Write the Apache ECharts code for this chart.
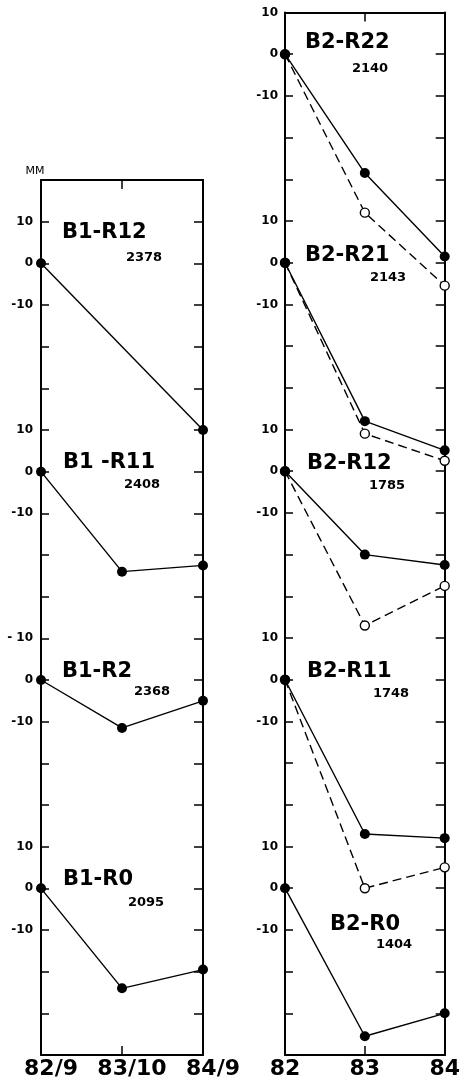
<!DOCTYPE html>
<html><head><meta charset="utf-8">
<script src="https://cdn.jsdelivr.net/npm/echarts@6/dist/echarts.min.js"></script>
<style>html,body{margin:0;padding:0;background:#fff}#c{width:463px;height:1081px}</style>
</head><body><div id="c"></div>
<script>
// ---- data ----
const leftCategories = ['82/9', '83/10', '84/9'];
const rightCategories = ['82', '83', '84'];

const leftNames = ['B1-R12', 'B1 -R11', 'B1-R2', 'B1-R0'];
const leftCodes = ['2378', '2408', '2368', '2095'];
const rightNames = ['B2-R22', 'B2-R21', 'B2-R12', 'B2-R11', 'B2-R0'];
const rightCodes = ['2140', '2143', '1785', '1748', '1404'];

// settlement (mm), solid = filled circles
const b1r12 = [0, null, -40];
const b1r11 = [0, -24, -22.5];
const b1r2  = [0, -11.5, -5];
const b1r0  = [0, -24, -19.5];

const b2r22 = [0, -28.5, -48.5];
const b2r21 = [0, -38, -45];
const b2r12 = [0, -20, -22.5];
const b2r11 = [0, -37, -38];
const b2r0  = [0, -35.5, -30];

// dashed = open circles
const b2r22o = [0, -38, -55.5];
const b2r21o = [0, -41, -47.5];
const b2r12o = [0, -37, -27.5];
const b2r11o = [0, -50, -45];

// tick labels
const leftTickValues = [-40, -50, -60, -90, -100, -110, -140, -150, -160, -190, -200, -210];
const leftTickLabels = ['10', '0', '-10', '10', '0', '-10', '- 10', '0', '-10', '10', '0', '-10'];
const rightTickValues = [10, 0, -10, -40, -50, -60, -90, -100, -110, -140, -150, -160, -190, -200, -210];
const rightTickLabels = ['10', '0', '-10', '10', '0', '-10', '10', '0', '-10', '10', '0', '-10', '10', '0', '-10'];

// ---- layout ----
const leftZero = [-50, -100, -150, -200];
const rightZero = [0, -50, -100, -150, -200];
const leftSolid = [b1r12, b1r11, b1r2, b1r0];
const rightSolid = [b2r22, b2r21, b2r12, b2r11, b2r0];
const rightOpen = [b2r22o, b2r21o, b2r12o, b2r11o];

const leftTitlePos = [[62, 233], [63, 463], [62, 672], [63, 880]];
const leftCodePos = [[144, 258], [142, 485], [152, 692], [146, 903]];
const rightTitlePos = [[305, 43], [305, 256], [307, 464], [307, 672], [330, 925]];
const rightCodePos = [[370, 69], [388, 278], [387, 486], [391, 694], [394, 945]];

const FONT = '"DejaVu Sans", sans-serif';

function labelMap(vals, labs) {
  const m = {};
  vals.forEach((v, i) => { m[v] = labs[i]; });
  return m;
}
const lMap = labelMap(leftTickValues, leftTickLabels);
const rMap = labelMap(rightTickValues, rightTickLabels);

function shift(arr, z) { return arr.map(v => v == null ? null : v + z); }

const series = [];
leftSolid.forEach((d, i) => {
  series.push({
    type: 'line', xAxisIndex: 0, yAxisIndex: 0, data: shift(d, leftZero[i]),
    connectNulls: true, symbol: 'circle', symbolSize: 10,
    itemStyle: { color: '#000' }, lineStyle: { color: '#000', width: 1.4 }, z: 3
  });
});
rightOpen.forEach((d, i) => {
  series.push({
    type: 'line', xAxisIndex: 2, yAxisIndex: 2, data: shift(d, rightZero[i]),
    symbol: 'circle', symbolSize: 9,
    itemStyle: { color: '#fff', borderColor: '#000', borderWidth: 1.4 },
    lineStyle: { color: '#000', width: 1.4, type: [9, 5] }, z: 2
  });
});
rightSolid.forEach((d, i) => {
  series.push({
    type: 'line', xAxisIndex: 2, yAxisIndex: 2, data: shift(d, rightZero[i]),
    symbol: 'circle', symbolSize: 10,
    itemStyle: { color: '#000' }, lineStyle: { color: '#000', width: 1.4 }, z: 3
  });
});

const axisLine = { show: true, onZero: false, lineStyle: { color: '#000', width: 2 } };

function yAxes(gridIndex, min, max, map, margin) {
  return [
    {
      type: 'value', gridIndex, position: 'left', min, max, interval: 10,
      axisLine, splitLine: { show: false },
      axisTick: { show: true, inside: true, length: 8, lineStyle: { color: '#000', width: 1.5 } },
      axisLabel: {
        show: true, margin, color: '#000', fontFamily: FONT, fontSize: 12, fontWeight: 'bold',
        formatter: v => (map[v] !== undefined ? map[v] : '')
      }
    },
    {
      type: 'value', gridIndex, position: 'right', min, max, interval: 10,
      axisLine, splitLine: { show: false },
      axisTick: { show: true, inside: true, length: 9, lineStyle: { color: '#000', width: 1.5 } },
      axisLabel: { show: false }
    }
  ];
}

function xAxes(gridIndex, cats, pad) {
  return [
    {
      type: 'category', gridIndex, position: 'bottom', data: cats, boundaryGap: false,
      axisLine, axisTick: { show: true, inside: true, length: 9, lineStyle: { color: '#000', width: 1.5 } },
      axisLabel: { show: true, margin: 3, color: '#000', fontFamily: FONT, fontSize: 22, fontWeight: 'bold', padding: pad, interval: 0 },
      splitLine: { show: false }
    },
    {
      type: 'category', gridIndex, position: 'top', data: cats, boundaryGap: false,
      axisLine, axisTick: { show: true, inside: true, length: 9, lineStyle: { color: '#000', width: 1.5 } },
      axisLabel: { show: false }, splitLine: { show: false }
    }
  ];
}

const graphic = [];
function addText(text, pos, size, weight, align) {
  graphic.push({
    type: 'text', x: pos[0], y: pos[1], z: 10,
    style: { text, fill: '#000', font: weight + ' ' + size + 'px ' + FONT,
             align, verticalAlign: 'middle', textAlign: align, textVerticalAlign: 'middle' }
  });
}
leftNames.forEach((t, i) => addText(t, leftTitlePos[i], 21, 'bold', 'left'));
leftCodes.forEach((t, i) => addText(t, leftCodePos[i], 13, 'bold', 'center'));
rightNames.forEach((t, i) => addText(t, rightTitlePos[i], 21, 'bold', 'left'));
rightCodes.forEach((t, i) => addText(t, rightCodePos[i], 13, 'bold', 'center'));
addText('MM', [35, 171], 11, 'normal', 'center');

const chart = echarts.init(document.getElementById('c'), null, { renderer: 'canvas' });
chart.setOption({
  animation: false,
  backgroundColor: '#fff',
  grid: [
    { left: 41, top: 180, width: 162, height: 875, containLabel: false },
    { left: 285, top: 12.5, width: 165, height: 1042.5, containLabel: false }
  ],
  xAxis: [].concat(xAxes(0, leftCategories, [0, 0, 0, 20]), xAxes(1, rightCategories, [0, 0, 0, 0])),
  yAxis: [].concat(yAxes(0, -240, -30, lMap, 8), yAxes(1, -240, 10, rMap, 7)),
  series,
  graphic
});
</script></body></html>
